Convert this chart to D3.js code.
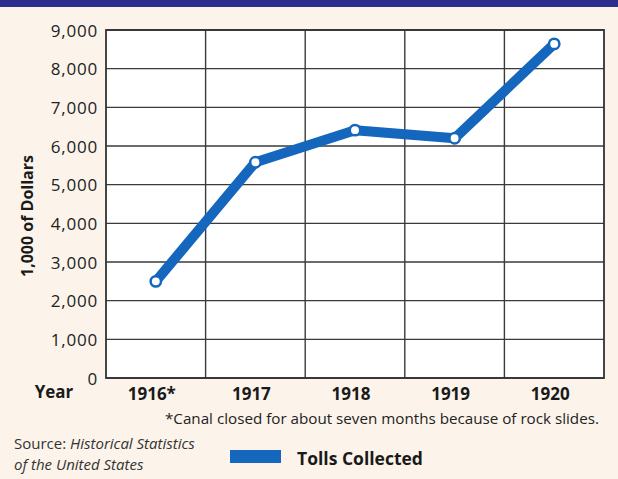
<!DOCTYPE html>
<html><head><meta charset="utf-8">
<script src="https://cdn.jsdelivr.net/npm/d3@7"></script>
<style>body{margin:0;background:#fcf4ea;}svg{display:block;}</style>
</head><body>
<script>
const years = ["1916*", "1917", "1918", "1919", "1920"];
const tolls = [2500, 5580, 6410, 6200, 8640];
const yTicks = [0, 1000, 2000, 3000, 4000, 5000, 6000, 7000, 8000, 9000];
const footnote = "*Canal closed for about seven months because of rock slides.";
const legendLabel = "Tolls Collected";

const W = 618, H = 479;
const m = {left: 106, right: 604, top: 30, bottom: 378};
const svg = d3.select("body").append("svg").attr("width", W).attr("height", H);
svg.append("rect").attr("width", W).attr("height", H).attr("fill", "#fcf4ea");
svg.append("rect").attr("width", W).attr("height", 7).attr("fill", "#2b2e8a");

const x = d3.scaleBand().domain(years).range([m.left, m.right]).padding(0);
const y = d3.scaleLinear().domain([0, 9000]).range([m.bottom, m.top]);
const font = "'Open Sans', 'Noto Sans', sans-serif";

svg.append("rect").attr("x", m.left).attr("y", m.top)
  .attr("width", m.right - m.left).attr("height", m.bottom - m.top).attr("fill", "#fff");

// horizontal grid
svg.append("g").selectAll("line").data(yTicks).join("line")
  .attr("x1", m.left).attr("x2", m.right)
  .attr("y1", d => y(d)).attr("y2", d => y(d))
  .attr("stroke", "#3a3a3a").attr("stroke-width", 1.4);
// vertical grid
svg.append("g").selectAll("line").data(years.slice(1)).join("line")
  .attr("x1", d => x(d)).attr("x2", d => x(d))
  .attr("y1", m.top).attr("y2", m.bottom)
  .attr("stroke", "#3a3a3a").attr("stroke-width", 1.4);
svg.append("rect").attr("x", m.left).attr("y", m.top)
  .attr("width", m.right - m.left).attr("height", m.bottom - m.top)
  .attr("fill", "none").attr("stroke", "#333").attr("stroke-width", 1.8);

// y axis tick labels
const yAxis = d3.axisLeft(y).tickValues(yTicks).tickSize(0).tickPadding(8).tickFormat(d3.format(","));
const ga = svg.append("g").attr("transform", `translate(${m.left},0)`).call(yAxis);
ga.select(".domain").remove();
ga.selectAll("text").attr("font-family", font).attr("font-size", 17).attr("dy", "0.36em")
  .attr("letter-spacing", 0.8).attr("fill", "#222");

// x axis labels
const xAxis = d3.axisBottom(x).tickSize(0).tickPadding(10);
const gx = svg.append("g").attr("transform", `translate(-4,${m.bottom})`).call(xAxis);
gx.select(".domain").remove();
gx.selectAll("text").attr("font-family", font).attr("font-size", 17).attr("font-weight", "bold").attr("fill", "#1a1a1a");

svg.append("text").attr("x", 54).attr("y", 398).attr("text-anchor", "middle")
  .attr("font-family", font).attr("font-size", 17).attr("font-weight", "bold").attr("fill", "#1a1a1a").text("Year");

svg.append("text").attr("transform", "translate(33,216) rotate(-90)").attr("text-anchor", "middle")
  .attr("font-family", font).attr("font-size", 16).attr("font-weight", "bold").attr("fill", "#1a1a1a")
  .text("1,000 of Dollars");

// line
const cx = d => x(d) + x.bandwidth() / 2;
const line = d3.line().x((d, i) => cx(years[i])).y(d => y(d));
svg.append("path").datum(tolls).attr("d", line)
  .attr("fill", "none").attr("stroke", "#1467bd").attr("stroke-width", 10)
  .attr("stroke-linejoin", "round").attr("stroke-linecap", "round");
svg.append("g").selectAll("circle").data(tolls).join("circle")
  .attr("cx", (d, i) => cx(years[i])).attr("cy", d => y(d)).attr("r", 5.2)
  .attr("fill", "#fff").attr("stroke", "#1467bd").attr("stroke-width", 2.5);

svg.append("text").attr("x", 165).attr("y", 424)
  .attr("font-family", font).attr("font-size", 15.2).attr("fill", "#222").text(footnote);

const src = svg.append("text").attr("x", 14).attr("y", 449)
  .attr("font-family", font).attr("font-size", 15).attr("fill", "#333");
src.append("tspan").text("Source: ");
src.append("tspan").attr("font-style", "italic").text("Historical Statistics");
svg.append("text").attr("x", 14).attr("y", 470)
  .attr("font-family", font).attr("font-size", 15).attr("font-style", "italic").attr("fill", "#333")
  .text("of the United States");

svg.append("rect").attr("x", 230).attr("y", 450).attr("width", 51).attr("height", 13).attr("fill", "#1467bd");
svg.append("text").attr("x", 297).attr("y", 465)
  .attr("font-family", font).attr("font-size", 17.5).attr("font-weight", "bold").attr("fill", "#1a1a1a")
  .text(legendLabel);
</script>
</body></html>
